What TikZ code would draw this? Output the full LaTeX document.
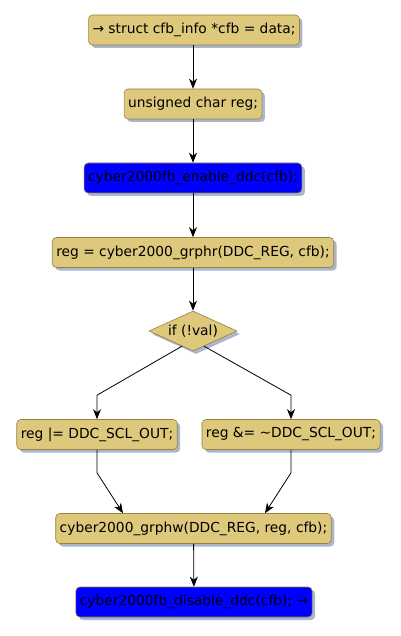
\documentclass[tikz,border=0pt]{standalone}
\usepackage{fontspec}
\setmainfont{DejaVu Sans}
\usepackage{xcolor}
\usetikzlibrary{positioning, arrows.meta, shapes.geometric, shadows, calc}
\definecolor{actfill}{RGB}{221,200,124}
\definecolor{actline}{RGB}{152,128,64}
\definecolor{shade}{RGB}{150,162,190}

\begin{document}
\begin{tikzpicture}[x=1pt, y=1pt,
    every node/.style={font=\fontsize{13.8}{15}\selectfont, text=black},
    act/.style={rectangle, rounded corners=4pt, draw=actline, fill=actfill, line width=0.6pt,
      minimum height=30pt, inner xsep=4pt,
      drop shadow={shadow xshift=3pt, shadow yshift=-3pt, fill=shade, opacity=0.8}},
    hot/.style={act, fill=blue},
    cond/.style={diamond, draw=actline, fill=actfill, line width=0.6pt, aspect=2.2,
      minimum width=88pt, minimum height=40pt, inner sep=0pt,
      drop shadow={shadow xshift=3pt, shadow yshift=-3pt, fill=shade, opacity=0.8}},
    flow/.style={-{Stealth[length=10pt, width=8pt, inset=3pt]}, line width=0.8pt}]
  \useasboundingbox (0,0) rectangle (400,-636);

  \node[act] (decl) at (194,-30) {→ struct cfb\_info *cfb = data;};
  \node[act] (reg) at (193,-104) {unsigned char reg;};
  \node[hot] (enable) at (193,-178) {cyber2000fb\_enable\_ddc(cfb);};
  \node[act] (rd) at (193,-252.5) {reg = cyber2000\_grphr(DDC\_REG, cfb);};
  \node[cond] (test) at (193,-331) {if (!val)};
  \node[act] (setbit) at (97,-434.5) {reg |= DDC\_SCL\_OUT;};
  \node[act] (clrbit) at (291,-434.5) {reg \&= \textasciitilde DDC\_SCL\_OUT;};
  \node[act] (wr) at (193.5,-528.5) {cyber2000\_grphw(DDC\_REG, reg, cfb);};
  \node[hot] (disable) at (194,-602) {cyber2000fb\_disable\_ddc(cfb); →};

  \draw[flow] (decl.south -| reg) -- (reg);
  \draw[flow] (reg) -- (enable);
  \draw[flow] (enable) -- (rd);
  \draw[flow] (rd) -- (test);

  % branches of the test
  \draw[flow] ($(test.south)!0.25!(test.west)$) -- ([yshift=24pt]setbit.north) -- (setbit.north);
  \draw[flow] ($(test.south)!0.25!(test.east)$) -- ([yshift=24pt]clrbit.north) -- (clrbit.north);

  % merge
  \draw[flow] (setbit.south) -- ([yshift=-23pt]setbit.south) -- (wr.north -| 123,0);
  \draw[flow] (clrbit.south) -- ([yshift=-23pt]clrbit.south) -- (wr.north -| 265,0);

  \draw[flow] (wr) -- (disable);
\end{tikzpicture}
\end{document}
